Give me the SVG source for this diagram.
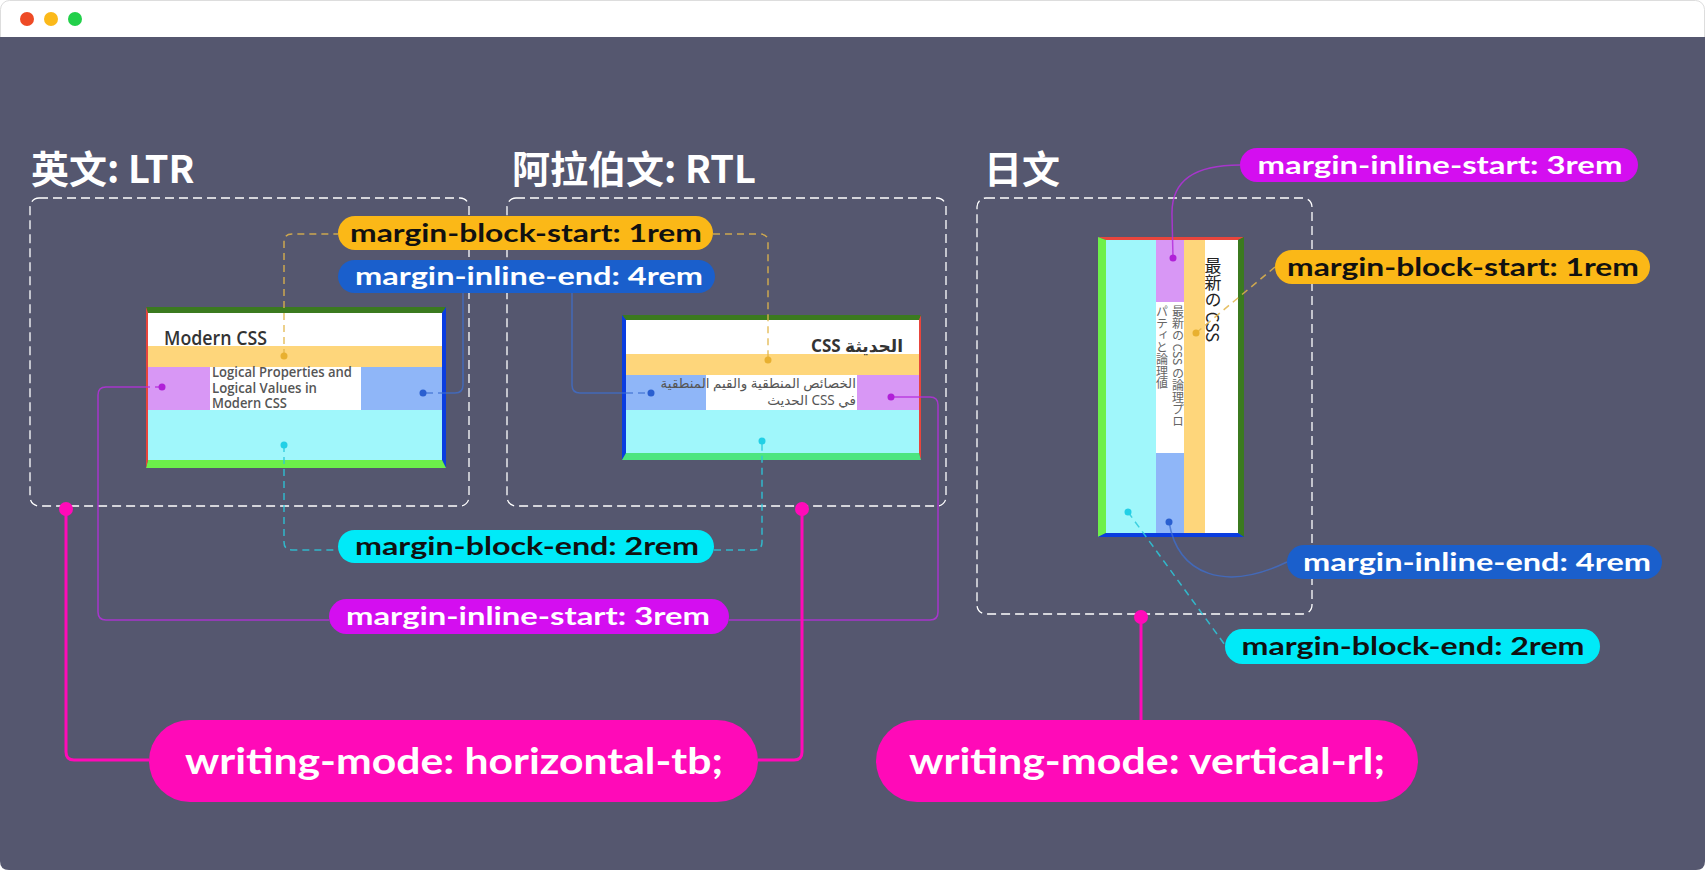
<svg xmlns="http://www.w3.org/2000/svg" width="1705" height="870" viewBox="0 0 1705 870">
<style>
.title{font-family:"Noto Sans CJK SC","Noto Sans",sans-serif;font-weight:700;font-size:38px;fill:#fff}
.frame{fill:none;stroke:#fff;stroke-width:1.3;stroke-dasharray:9 5}
.pill{font-family:Lato,"Liberation Sans",sans-serif;font-weight:700;font-size:25px;text-anchor:middle}
.big{font-family:Lato,"Liberation Sans",sans-serif;font-weight:700;font-size:37px;text-anchor:middle;fill:#fff}
.dk{fill:#111}
.wt{fill:#fff}
.card-h{font-family:"Open Sans","Noto Sans",sans-serif;font-weight:600;font-size:19px;fill:#333}
.card-p{font-family:"Open Sans","Noto Sans",sans-serif;font-weight:600;font-size:13.5px;fill:#555}
.ar-h{font-family:"Noto Sans","DejaVu Sans",sans-serif;font-weight:700;font-size:17px;fill:#333}
.ar-p{font-family:"Noto Sans","DejaVu Sans",sans-serif;font-size:13.5px;fill:#555}
.jp-h{font-family:"Noto Sans CJK JP",sans-serif;font-size:17px;fill:#222;writing-mode:vertical-rl}
.jp-p{font-family:"Noto Sans CJK JP",sans-serif;font-size:12px;fill:#666;writing-mode:vertical-rl}
.c{fill:none;stroke-width:1.5}
.dash{stroke-dasharray:7 5}
.yl{stroke:#e2b54a;opacity:.85}
.bl{stroke:#3d6fd0;opacity:.75}
.cy{stroke:#2cc9da;opacity:.85}
.pu{stroke:#b530dc;opacity:.85}
.mg{fill:none;stroke:#ff0ab8;stroke-width:3}
</style>
<!-- window -->
<rect x="0.5" y="0.5" width="1704" height="869" rx="9" fill="#ffffff" stroke="#dddddd"/>
<path d="M0,37 H1705 V861 Q1705,870 1696,870 H9 Q0,870 0,861 Z" fill="#55576f"/>
<circle cx="27" cy="19" r="7" fill="#ee4a25"/>
<circle cx="51" cy="19" r="7" fill="#fbb91a"/>
<circle cx="75" cy="19" r="7" fill="#22d04a"/>

<!-- section titles -->
<g id="title-ltr"><text class="title" x="31" y="183">英文: LTR</text></g>
<g id="title-rtl"><text class="title" x="512" y="183">阿拉伯文: RTL</text></g>
<g id="title-jp"><text class="title" x="984" y="183">日文</text></g>

<!-- dashed frames -->
<g id="frame-ltr"><rect class="frame" x="30" y="198" width="439" height="308" rx="9"/></g>
<g id="frame-rtl"><rect class="frame" x="507" y="198" width="439" height="308" rx="9"/></g>
<g id="frame-jp"><rect class="frame" x="977" y="198" width="335" height="416" rx="9"/></g>

<!-- LTR card -->
<g id="card-ltr">
<rect x="148" y="313" width="294" height="33" fill="#ffffff"/>
<rect x="148" y="346" width="294" height="21" fill="#fed67b"/>
<rect x="148" y="367" width="62" height="43" fill="#d897f5"/>
<rect x="210" y="367" width="151" height="43" fill="#ffffff"/>
<rect x="361" y="367" width="81" height="43" fill="#8fb6f8"/>
<rect x="148" y="410" width="294" height="50" fill="#a0f7fb"/>
<polygon points="146,307 446,307 442,313 148,313" fill="#3b7a1f"/>
<polygon points="442,313 446,307 446,468 442,460" fill="#0a3de0"/>
<polygon points="146,468 148,460 442,460 446,468" fill="#6cf04a"/>
<polygon points="146,307 148,313 148,460 146,468" fill="#e8453c"/>
<text class="card-h" x="164" y="345" textLength="103" lengthAdjust="spacingAndGlyphs">Modern CSS</text>
<text class="card-p" x="212" y="377" textLength="140" lengthAdjust="spacingAndGlyphs">Logical Properties and</text>
<text class="card-p" x="212" y="393" textLength="105" lengthAdjust="spacingAndGlyphs">Logical Values in</text>
<text class="card-p" x="212" y="408" textLength="75" lengthAdjust="spacingAndGlyphs">Modern CSS</text>
</g>

<!-- RTL card -->
<g id="card-rtl">
<rect x="626" y="320" width="293" height="34" fill="#ffffff"/>
<rect x="626" y="354" width="293" height="21" fill="#fed67b"/>
<rect x="626" y="375" width="80" height="35" fill="#8fb6f8"/>
<rect x="706" y="375" width="151" height="35" fill="#ffffff"/>
<rect x="857" y="375" width="62" height="35" fill="#d897f5"/>
<rect x="626" y="410" width="293" height="43" fill="#a0f7fb"/>
<polygon points="622,315 921,315 919,320 626,320" fill="#3b7a1f"/>
<polygon points="622,315 626,320 626,453 622,460" fill="#0a3de0"/>
<polygon points="919,320 921,315 921,460 919,453" fill="#e8453c"/>
<polygon points="622,460 626,453 919,453 921,460" fill="#4de57f"/>
<text class="ar-h" x="903" y="352" text-anchor="end">CSS الحديثة</text>
<text class="ar-p" x="856" y="388" text-anchor="end">الخصائص المنطقية والقيم المنطقية</text>
<text class="ar-p" x="856" y="405" text-anchor="end">الحديث CSS في</text>
</g>

<!-- Japanese card -->
<g id="card-jp">
<rect x="1106" y="240" width="50" height="293" fill="#a0f7fb"/>
<rect x="1156" y="240" width="28" height="62" fill="#d897f5"/>
<rect x="1156" y="302" width="28" height="151" fill="#ffffff"/>
<rect x="1156" y="453" width="28" height="80" fill="#8fb6f8"/>
<rect x="1184" y="240" width="21" height="293" fill="#fed67b"/>
<rect x="1205" y="240" width="33" height="293" fill="#ffffff"/>
<polygon points="1098,237 1244,237 1238,240 1106,240" fill="#e8453c"/>
<polygon points="1098,237 1106,240 1106,533 1098,537" fill="#6ef04a"/>
<polygon points="1238,240 1244,237 1244,537 1238,533" fill="#3b7a1f"/>
<polygon points="1098,537 1106,533 1238,533 1244,537" fill="#0a3de0"/>
<text class="jp-h" x="1213" y="257">最新の CSS</text>
<text class="jp-p" x="1178" y="305">最新の CSS の論理プロ</text>
<text class="jp-p" x="1162" y="305">パティと論理値</text>
</g>

<!-- connectors -->
<g id="connectors">
<path class="c dash yl" d="M284,356 V242 Q284,234 292,234 H338"/>
<path class="c dash yl" d="M713,234 H760 Q768,234 768,242 V360"/>
<path class="c bl" d="M463,293 V385 Q463,393 455,393 H445"/>
<path class="c dash bl" d="M445,393 H423"/>
<path class="c bl" d="M572,293 V385 Q572,393 580,393 H626"/>
<path class="c dash bl" d="M626,393 H651"/>
<path class="c dash cy" d="M284,445 V542 Q284,550 292,550 H338"/>
<path class="c dash cy" d="M714,550 H754 Q762,550 762,542 V441"/>
<path class="c dash pu" d="M162,387 H146"/>
<path class="c pu" d="M146,387 H106 Q98,387 98,395 V612 Q98,620 106,620 H329"/>
<path class="c pu" d="M729,620 H930 Q938,620 938,612 V405 Q938,397 930,397 H891"/>
<path class="c pu" d="M1173,258 L1172,215 C1171,180 1195,165 1240,165"/>
<path class="c dash yl" d="M1196,333 L1275,267"/>
<path class="c dash cy" d="M1128,512 L1225,645"/>
<path class="c bl" d="M1169,522 C1178,575 1225,592 1287,562"/>
<path class="mg" d="M66,509 V752 Q66,760 74,760 H149"/>
<path class="mg" d="M758,760 H794 Q802,760 802,752 V509"/>
<path class="mg" d="M1141,617 V720"/>
<g fill="#e8b030"><circle cx="284" cy="356" r="3.5"/><circle cx="768" cy="360" r="3.5"/><circle cx="1196" cy="333" r="3.5"/></g>
<g fill="#2a5fd0"><circle cx="423" cy="393" r="3.5"/><circle cx="651" cy="393" r="3.5"/><circle cx="1169" cy="522" r="3.5"/></g>
<g fill="#22d0e6"><circle cx="284" cy="445" r="3.5"/><circle cx="762" cy="441" r="3.5"/><circle cx="1128" cy="512" r="3.5"/></g>
<g fill="#b020d8"><circle cx="162" cy="387" r="3.5"/><circle cx="891" cy="397" r="3.5"/><circle cx="1173" cy="258" r="3.5"/></g>
<g fill="#ff0ab8"><circle cx="66" cy="509" r="7"/><circle cx="802" cy="509" r="7"/><circle cx="1141" cy="617" r="7"/></g>
</g>

<!-- label pills -->
<g id="pill-block-start-h"><rect x="338" y="216" width="375" height="34" rx="17" fill="#fbb817"/><text class="pill dk" x="526" y="242" textLength="352" lengthAdjust="spacingAndGlyphs">margin-block-start: 1rem</text></g>
<g id="pill-inline-end-h"><rect x="338" y="260" width="377" height="33" rx="16.5" fill="#1a5fcc"/><text class="pill wt" x="529" y="285" textLength="348" lengthAdjust="spacingAndGlyphs">margin-inline-end: 4rem</text></g>
<g id="pill-block-end-h"><rect x="338" y="530" width="376" height="33" rx="16.5" fill="#00eaf8"/><text class="pill dk" x="527" y="555" textLength="344" lengthAdjust="spacingAndGlyphs">margin-block-end: 2rem</text></g>
<g id="pill-inline-start-h"><rect x="329" y="599" width="400" height="35" rx="17.5" fill="#d40ef0"/><text class="pill wt" x="528" y="625" textLength="364" lengthAdjust="spacingAndGlyphs">margin-inline-start: 3rem</text></g>
<g id="pill-inline-start-v"><rect x="1240" y="148" width="398" height="34" rx="17" fill="#d40ef0"/><text class="pill wt" x="1440" y="174" textLength="365" lengthAdjust="spacingAndGlyphs">margin-inline-start: 3rem</text></g>
<g id="pill-block-start-v"><rect x="1275" y="250" width="375" height="34" rx="17" fill="#fbb817"/><text class="pill dk" x="1463" y="276" textLength="352" lengthAdjust="spacingAndGlyphs">margin-block-start: 1rem</text></g>
<g id="pill-inline-end-v"><rect x="1287" y="545" width="375" height="34" rx="17" fill="#1a5fcc"/><text class="pill wt" x="1477" y="571" textLength="348" lengthAdjust="spacingAndGlyphs">margin-inline-end: 4rem</text></g>
<g id="pill-block-end-v"><rect x="1225" y="629" width="375" height="35" rx="17.5" fill="#00eaf8"/><text class="pill dk" x="1413" y="655" textLength="343" lengthAdjust="spacingAndGlyphs">margin-block-end: 2rem</text></g>
<g id="pill-horizontal-tb"><rect x="149" y="720" width="609" height="82" rx="41" fill="#ff0ab8"/><text class="big" x="454" y="774" textLength="538" lengthAdjust="spacingAndGlyphs">writing-mode: horizontal-tb;</text></g>
<g id="pill-vertical-rl"><rect x="876" y="720" width="542" height="82" rx="41" fill="#ff0ab8"/><text class="big" x="1147" y="774" textLength="476" lengthAdjust="spacingAndGlyphs">writing-mode: vertical-rl;</text></g>
</svg>
